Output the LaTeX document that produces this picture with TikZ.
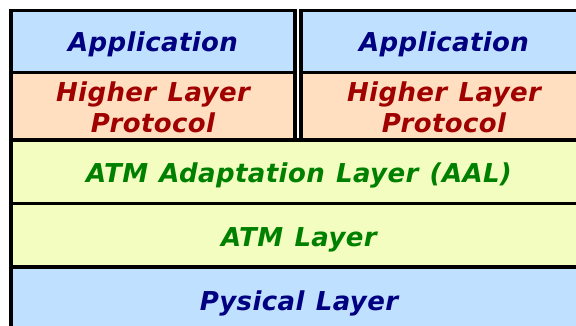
\documentclass[tikz,border=0pt]{standalone}
\usepackage{fontspec}
\setmainfont[WordSpace=1.2,LetterSpace=1.5]{DejaVu Sans}
\definecolor{appblue}{RGB}{192,224,255}
\definecolor{peach}{RGB}{255,223,192}
\definecolor{paleyellow}{RGB}{244,253,192}
\definecolor{navytext}{RGB}{0,0,128}
\definecolor{redtext}{RGB}{160,0,0}
\definecolor{greentext}{RGB}{0,128,0}
\begin{document}
\begin{tikzpicture}[x=1pt,y=-1pt,
  cell/.style={draw=black, line width=3.6pt, rectangle, inner sep=0pt,
               outer sep=0pt, anchor=north west},
  lbl/.style={anchor=base, inner sep=0pt,
              font=\fontsize{26}{31}\selectfont\bfseries\itshape}]
\useasboundingbox (0,0) rectangle (576,326);
\begin{scope}
  \clip (0,0) rectangle (576,326);
  % two protocol columns on top
  \node[cell, fill=appblue, minimum width=284pt, minimum height=62pt]   (appL) at (11,10.5) {};
  \node[cell, fill=peach,   minimum width=284pt, minimum height=67.5pt] (hlpL) at (11,72.5) {};
  \node[cell, fill=appblue, minimum width=286pt, minimum height=62pt]   (appR) at (301,10.5) {};
  \node[cell, fill=peach,   minimum width=286pt, minimum height=67.5pt] (hlpR) at (301,72.5) {};
  % shared lower layers
  \node[cell, fill=paleyellow, minimum width=576pt, minimum height=63.5pt] (aal) at (11,140) {};
  \node[cell, fill=paleyellow, minimum width=576pt, minimum height=63.5pt] (atm) at (11,203.5) {};
  \node[cell, fill=appblue,    minimum width=576pt, minimum height=68pt]   (phy) at (11,267) {};
\end{scope}
% labels
\node[lbl, text=navytext] (appLtxt) at (153,51.7) {Application};
\node[lbl, text=navytext] (appRtxt) at (444,51.7) {Application};
\node[lbl, text=redtext] (hlpLa) at (153,101.7) {Higher Layer};
\node[lbl, text=redtext] (hlpLb) at (153,132.7) {Protocol};
\node[lbl, text=redtext] (hlpRa) at (444,101.7) {Higher Layer};
\node[lbl, text=redtext] (hlpRb) at (444,132.7) {Protocol};
\node[lbl, text=greentext] (aaltxt) at (299,182.3) {ATM Adaptation Layer (AAL)};
\node[lbl, text=greentext] (atmtxt) at (299,246.5) {ATM Layer};
\node[lbl, text=navytext] (phytxt) at (299,310) {Pysical Layer};
\end{tikzpicture}
\end{document}
